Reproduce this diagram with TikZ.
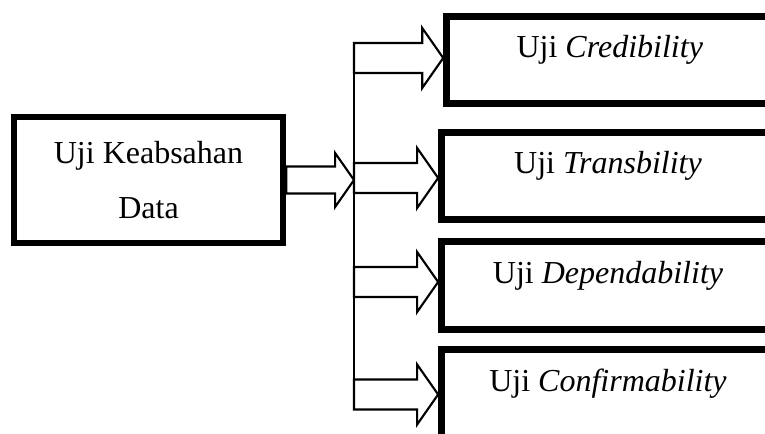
\documentclass[tikz,border=0pt]{standalone}
\usepackage{fontspec}
\setmainfont{Liberation Serif}
\usetikzlibrary{calc}

% outlined block arrow from tail #2 to tip #3 (same height), #1 = size
\newcommand{\blockarrow}[3][1]{%
  \draw[arrowline] ($(#2)+(0,{-15*#1})$) -- ($(#3)+({-21*#1},{-15*#1})$)
    -- ($(#3)+({-21*#1},{-30*#1})$) -- (#3)
    -- ($(#3)+({-21*#1},{30*#1})$) -- ($(#3)+({-21*#1},{15*#1})$)
    -- ($(#2)+(0,{15*#1})$) -- cycle;}

\begin{document}
\begin{tikzpicture}[
    x=0.375pt, y=-0.375pt,
    box/.style={draw, line width=2.5pt, fill=white, inner sep=0pt,
                align=center, font=\fontsize{12}{20.6}\selectfont},
    testbox/.style={box, minimum width=124.9pt, minimum height=32.8pt,
                    text height=9pt, text depth=10.5pt},
    arrowline/.style={draw, line width=0.8pt, fill=white, line join=miter},
    spine/.style={draw, line width=0.8pt}
]
\useasboundingbox (0,0) rectangle (765,434);
\clip (0,0) rectangle (765,434);

\node[box, minimum width=100.9pt, minimum height=47.25pt] (kb)
    at (148.5,180) {Uji Keabsahan\\Data};

\node[testbox, minimum width=122.4pt, minimum height=32.6pt] (cred)
    at (609.75,60) {Uji \textit{Credibility}};
\node[testbox, minimum height=32.6pt] (trans)
    at (608,176) {Uji \textit{Transbility}};
\node[testbox] (dep) at (608,285.5) {Uji \textit{Dependability}};
\node[testbox] (conf) at (608,393.5) {Uji \textit{Confirmability}};

% branch points on the spine
\coordinate (s1) at (354,58);
\coordinate (s2) at (354,178);
\coordinate (s3) at (354,282);
\coordinate (s4) at (354,394.5);

\draw[spine] ($(s1)+(0,-15)$) -- ($(s4)+(0,15)$);

\coordinate (h0) at (s1 |- kb.east);
\coordinate (h1) at (cred.west |- s1);
\coordinate (h2) at (trans.west |- s2);
\coordinate (h3) at (dep.west |- s3);
\coordinate (h4) at (conf.west |- s4);

\blockarrow[0.9]{kb.east}{h0}
\blockarrow{s1}{h1}
\blockarrow{s2}{h2}
\blockarrow{s3}{h3}
\blockarrow{s4}{h4}

\end{tikzpicture}
\end{document}
